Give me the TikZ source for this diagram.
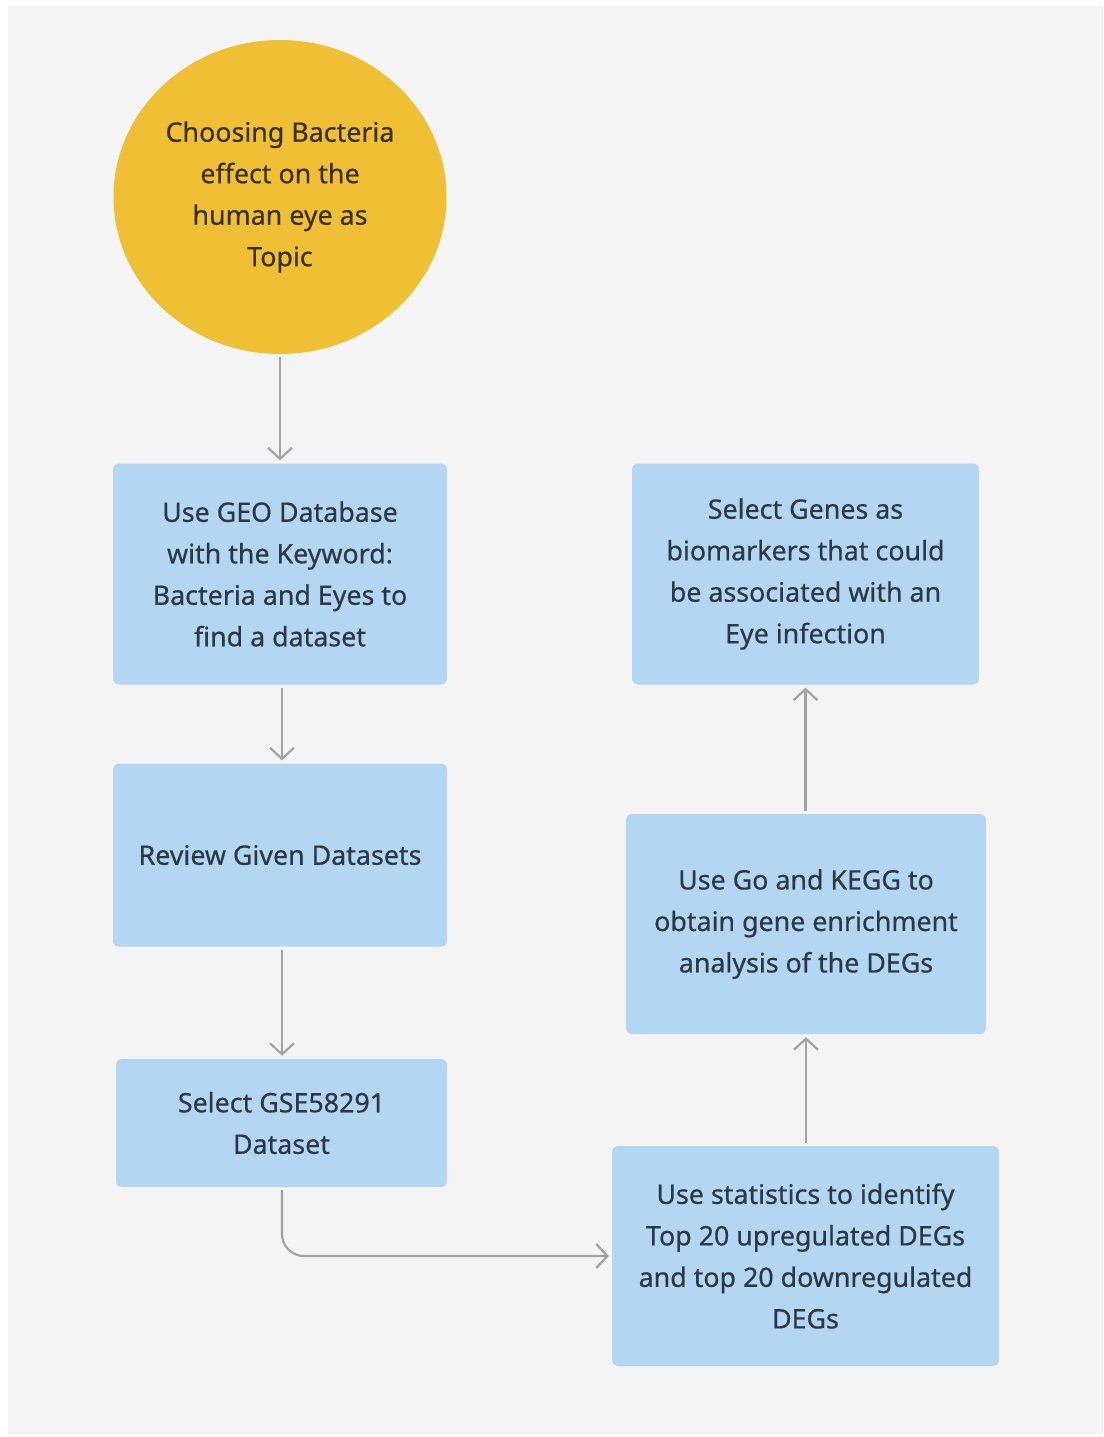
\documentclass[tikz,border=0pt]{standalone}
\usepackage{fontspec}
\setmainfont{Noto Sans}[FakeBold=0.5]
\usetikzlibrary{arrows.meta,shapes.geometric}
\definecolor{bgc}{HTML}{F4F4F4}
\definecolor{boxc}{HTML}{B3D6F2}
\definecolor{circc}{HTML}{F0C034}
\definecolor{txtb}{HTML}{2A3847}
\definecolor{txtc}{HTML}{3B2F1A}
\definecolor{linec}{HTML}{A3A3A3}
\tikzset{
  stepbox/.style={rectangle, rounded corners=6pt, fill=boxc, draw=none, inner sep=0pt,
    align=center, text=txtb, font=\fontsize{26.8}{41.5}\selectfont},
  topicnode/.style={ellipse, fill=circc, draw=none, inner sep=0pt, align=center, text=txtc,
    font=\fontsize{26.8}{41.5}\selectfont, minimum width=333pt, minimum height=314pt},
  conn/.style={draw=linec, line width=2.2pt, -{Straight Barb[length=11pt,width=24pt,line width=2.2pt]},
    shorten <=3pt, shorten >=3pt}
}
\begin{document}
\begin{tikzpicture}[x=1pt,y=-1pt]
\useasboundingbox (0,0) rectangle (1103,1437);
\fill[white] (0,0) rectangle (1103,1437);
\fill[bgc] (8,6) rectangle (1103,1434);

\node[topicnode] (topic) at (280,197) {Choosing Bacteria\\effect on the\\human eye as\\Topic};

\node[stepbox, minimum width=334pt, minimum height=221pt] (geo) at (280,574)
  {Use GEO Database\\with the Keyword:\\Bacteria and Eyes to\\find a dataset};
\node[stepbox, minimum width=334pt, minimum height=183pt] (review) at (280,855)
  {Review Given Datasets};
\node[stepbox, minimum width=331pt, minimum height=128pt] (gse) at (281.5,1123)
  {Select GSE58291\\Dataset};
\node[stepbox, minimum width=387pt, minimum height=220pt] (stats) at (805.5,1256)
  {Use statistics to identify\\Top 20 upregulated DEGs\\and top 20 downregulated\\DEGs};
\node[stepbox, minimum width=360pt, minimum height=220pt] (kegg) at (806,924)
  {Use Go and KEGG to\\obtain gene enrichment\\analysis of the DEGs};
\node[stepbox, minimum width=347pt, minimum height=221pt] (genes) at (805.5,574)
  {Select Genes as\\biomarkers that could\\be associated with an\\Eye infection};

\coordinate (c1) at (282,0);
\draw[conn] (topic) -- (geo);
\draw[conn] (geo.south -| c1) -- (review.north -| c1);
\draw[conn] (review.south -| c1) -- (gse.north -| c1);
\draw[conn, rounded corners=22pt] (gse.south -| c1) |- (stats.west);
\draw[conn] (stats.north -| kegg.south) -- (kegg.south);
\draw[conn] (kegg.north -| genes.south) -- (genes.south);
\end{tikzpicture}
\end{document}
